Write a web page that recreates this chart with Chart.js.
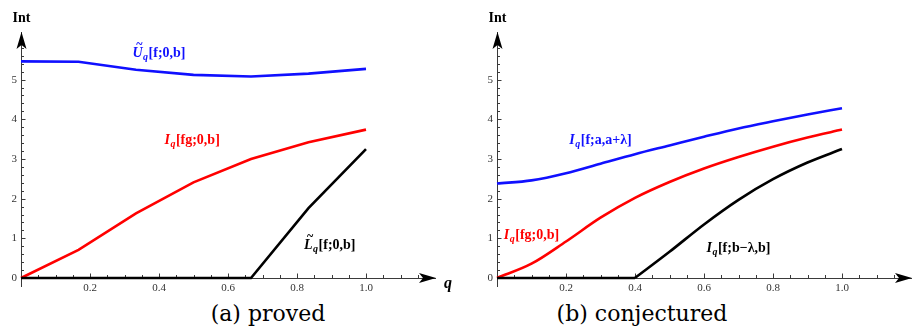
<!DOCTYPE html>
<html>
<head>
<meta charset="utf-8">
<script src="https://cdn.jsdelivr.net/npm/chart.js@4"></script>
<style>
  html, body { margin: 0; padding: 0; background: #fff; }
  #wrap { position: relative; width: 919px; height: 331px; overflow: hidden; background: #fff; }
  canvas { position: absolute; top: 0; }
  .cap { position: absolute; top: 300px; font-family: "DejaVu Serif", serif; font-size: 22px; color: #000; white-space: nowrap; transform: translateX(-50%); line-height: 28px; }
</style>
</head>
<body>
<div id="wrap">
  <canvas id="ca" width="460" height="300" style="left:0px"></canvas>
  <canvas id="cb" width="459" height="300" style="left:460px"></canvas>
  <div class="cap" style="left:268px">(a) proved</div>
  <div class="cap" style="left:642px">(b) conjectured</div>
</div>
<script>
// ---- data: panel (a) proved ----
const qA = [0, 0.1667, 0.3333, 0.5, 0.6667, 0.8333, 1.0];
const uTildeA = [5.46, 5.45, 5.25, 5.12, 5.08, 5.15, 5.27];
const iFgA = [0, 0.71, 1.63, 2.41, 3.0, 3.42, 3.74];
const lTildeA = [0, 0, 0, 0, 0, 1.76, 3.25];

// ---- data: panel (b) conjectured ----
const qB = [0, 0.1, 0.2, 0.3, 0.4, 0.5, 0.6, 0.7, 0.8, 0.9, 1.0];
const iFaB = [2.38, 2.46, 2.64, 2.88, 3.12, 3.34, 3.56, 3.77, 3.95, 4.12, 4.28];
const iFgB = [0, 0.36, 0.92, 1.52, 2.02, 2.42, 2.76, 3.05, 3.31, 3.54, 3.74];
const qBlackZero = [0, 0.4];
const blackZero = [0, 0];
const qBlack = [0.4, 0.5, 0.6, 0.7, 0.8, 0.9, 1.0];
const iFbB = [0, 0.66, 1.35, 1.97, 2.49, 2.91, 3.25];

// tick labels
const xTickLabels = ['0.2', '0.4', '0.6', '0.8', '1.0'];
const yTickLabels = ['0', '1', '2', '3', '4', '5'];

const BLUE = '#1010ff', RED = '#ff0000', BLACK = '#000000';
const AXIS = '#3a3a3a';

function pts(xs, ys) { return xs.map((x, i) => ({ x: x, y: ys[i] })); }

// curve labels: parts [text, style] style: 'bi' bold italic, 'sub' subscript, 'b' bold
const labelsA = [
  { q: 0.40, v: 5.70, color: BLUE, tilde: true, parts: [['U', 'bi'], ['q', 'sub'], ['[f;0,b]', 'b']] },
  { q: 0.496, v: 3.51, color: RED, parts: [['I', 'bi'], ['q', 'sub'], ['[fg;0,b]', 'b']] },
  { q: 0.895, v: 0.86, color: BLACK, tilde: true, parts: [['L', 'bi'], ['q', 'sub'], ['[f;0,b]', 'b']] }
];
const labelsB = [
  { q: 0.30, v: 3.51, color: BLUE, parts: [['I', 'bi'], ['q', 'sub'], ['[f;a,a+\u03bb]', 'b']] },
  { q: 0.10, v: 1.11, color: RED, parts: [['I', 'bi'], ['q', 'sub'], ['[fg;0,b]', 'b']] },
  { q: 0.70, v: 0.78, color: BLACK, parts: [['I', 'bi'], ['q', 'sub'], ['[f;b\u2212\u03bb,b]', 'b']] }
];

const FAM = '"Liberation Serif", "Times New Roman", serif';

function fontFor(style) {
  if (style === 'bi') return 'italic bold 14px ' + FAM;
  if (style === 'sub') return 'italic bold 10px ' + FAM;
  return 'bold 14px ' + FAM;
}

function drawLabel(ctx, lab, xs, ys) {
  const cx = xs.getPixelForValue(lab.q);
  const cy = ys.getPixelForValue(lab.v);
  ctx.save();
  ctx.textBaseline = 'alphabetic';
  let total = 0;
  const widths = lab.parts.map(p => { ctx.font = fontFor(p[1]); const w = ctx.measureText(p[0]).width + (p[1] === 'b' ? 0 : 0.5); total += w; return w; });
  let x = cx - total / 2;
  const base = cy + 5;
  ctx.fillStyle = lab.color;
  lab.parts.forEach((p, i) => {
    ctx.font = fontFor(p[1]);
    const dy = p[1] === 'sub' ? 3 : 0;
    ctx.fillText(p[0], x, base + dy);
    if (i === 0 && lab.tilde) {
      ctx.font = 'bold 12px ' + FAM;
      const tw = ctx.measureText('~').width;
      ctx.fillText('~', x + widths[0] / 2 - tw / 2 + 1.5, base - 9);
    }
    x += widths[i];
  });
  ctx.restore();
}

function axesPlugin(labels) {
  return {
    id: 'mmaAxes',
    beforeDatasetsDraw(chart) {
      const ctx = chart.ctx;
      const xs = chart.scales.x, ys = chart.scales.y;
      const x0 = xs.getPixelForValue(0), y0 = ys.getPixelForValue(0);
      ctx.save();
      ctx.strokeStyle = AXIS;
      ctx.lineWidth = 1;
      ctx.beginPath();
      // y-axis extension below origin
      ctx.moveTo(x0 + 0.5, y0);
      ctx.lineTo(x0 + 0.5, y0 + 9);
      // x ticks (inward, upwards)
      for (let k = 1; k <= 23; k++) {
        const v = k * 0.05;
        const px = Math.round(xs.getPixelForValue(v)) + 0.5;
        const len = (k % 4 === 0) ? 4.5 : 3;
        ctx.moveTo(px, y0);
        ctx.lineTo(px, y0 - len);
      }
      // y ticks (inward, to the right)
      for (let k = 1; k <= 29; k++) {
        const v = k * 0.2;
        const py = Math.round(ys.getPixelForValue(v)) + 0.5;
        const len = (k % 5 === 0) ? 4.5 : 3;
        ctx.moveTo(x0, py);
        ctx.lineTo(x0 + len, py);
      }
      ctx.stroke();
      ctx.restore();
    },
    afterDraw(chart) {
      const ctx = chart.ctx;
      const xs = chart.scales.x, ys = chart.scales.y;
      const a = chart.chartArea;
      const x0 = xs.getPixelForValue(0), y0 = ys.getPixelForValue(0);
      ctx.save();
      ctx.fillStyle = '#000';
      // x arrow
      const tipX = a.right + 1;
      ctx.beginPath();
      ctx.moveTo(tipX, y0);
      ctx.lineTo(tipX - 17, y0 - 5);
      ctx.lineTo(tipX - 13, y0);
      ctx.lineTo(tipX - 17, y0 + 5);
      ctx.closePath();
      ctx.fill();
      // y arrow
      const tipY = a.top;
      ctx.beginPath();
      ctx.moveTo(x0 + 0.5, tipY);
      ctx.lineTo(x0 + 0.5 - 5, tipY + 17);
      ctx.lineTo(x0 + 0.5, tipY + 13);
      ctx.lineTo(x0 + 0.5 + 5, tipY + 17);
      ctx.closePath();
      ctx.fill();
      // axis titles
      ctx.font = 'bold 14px ' + FAM;
      ctx.textAlign = 'center';
      ctx.textBaseline = 'alphabetic';
      ctx.fillText('Int', x0 + 0.5, 22);
      ctx.font = 'italic bold 16px ' + FAM;
      ctx.fillText('q', tipX + 12, y0 + 10);
      ctx.restore();
      labels.forEach(l => drawLabel(ctx, l, xs, ys));
    }
  };
}

function makeChart(id, datasets, yWidth, padRight, labels) {
  return new Chart(document.getElementById(id), {
    type: 'scatter',
    data: { datasets: datasets },
    options: {
      responsive: false,
      devicePixelRatio: 1,
      animation: false,
      layout: { padding: { left: 0, top: 32, right: padRight, bottom: 0 } },
      plugins: { legend: { display: false }, tooltip: { enabled: false } },
      elements: { point: { radius: 0, hoverRadius: 0 } },
      scales: {
        x: {
          type: 'linear', min: 0, max: 1.2,
          grid: { display: false, drawTicks: false },
          border: { display: true, color: AXIS, width: 1 },
          afterFit: s => { s.height = 22; },
          ticks: {
            stepSize: 0.2, autoSkip: false, maxRotation: 0, padding: 4,
            color: '#333', font: { family: FAM, size: 11 },
            callback: v => { const i = Math.round(v / 0.2) - 1; return (i >= 0 && i < xTickLabels.length && Math.abs(v - (i + 1) * 0.2) < 1e-6) ? xTickLabels[i] : ''; }
          }
        },
        y: {
          type: 'linear', min: 0, max: 6.2,
          grid: { display: false, drawTicks: false },
          border: { display: true, color: AXIS, width: 1 },
          afterFit: s => { s.width = yWidth; },
          ticks: {
            stepSize: 1, autoSkip: false, padding: 4,
            color: '#333', font: { family: FAM, size: 11 },
            callback: v => { const i = Math.round(v); return (Math.abs(v - i) < 1e-6 && i >= 0 && i < yTickLabels.length) ? yTickLabels[i] : ''; }
          }
        }
      }
    },
    plugins: [axesPlugin(labels)]
  });
}

const lw = 2.6;
makeChart('ca', [
  { data: pts(qA, lTildeA), showLine: true, borderColor: BLACK, borderWidth: lw, tension: 0, clip: 6 },
  { data: pts(qA, iFgA), showLine: true, borderColor: RED, borderWidth: lw, tension: 0, clip: 6 },
  { data: pts(qA, uTildeA), showLine: true, borderColor: BLUE, borderWidth: lw, tension: 0, clip: 6 }
], 21, 25, labelsA);

makeChart('cb', [
  { data: pts(qBlackZero, blackZero), showLine: true, borderColor: BLACK, borderWidth: lw, tension: 0, clip: 6 },
  { data: pts(qBlack, iFbB), showLine: true, borderColor: BLACK, borderWidth: lw, cubicInterpolationMode: 'monotone', clip: 6 },
  { data: pts(qB, iFgB), showLine: true, borderColor: RED, borderWidth: lw, cubicInterpolationMode: 'monotone', clip: 6 },
  { data: pts(qB, iFaB), showLine: true, borderColor: BLUE, borderWidth: lw, cubicInterpolationMode: 'monotone', clip: 6 }
], 37, 8, labelsB);
</script>
</body>
</html>
